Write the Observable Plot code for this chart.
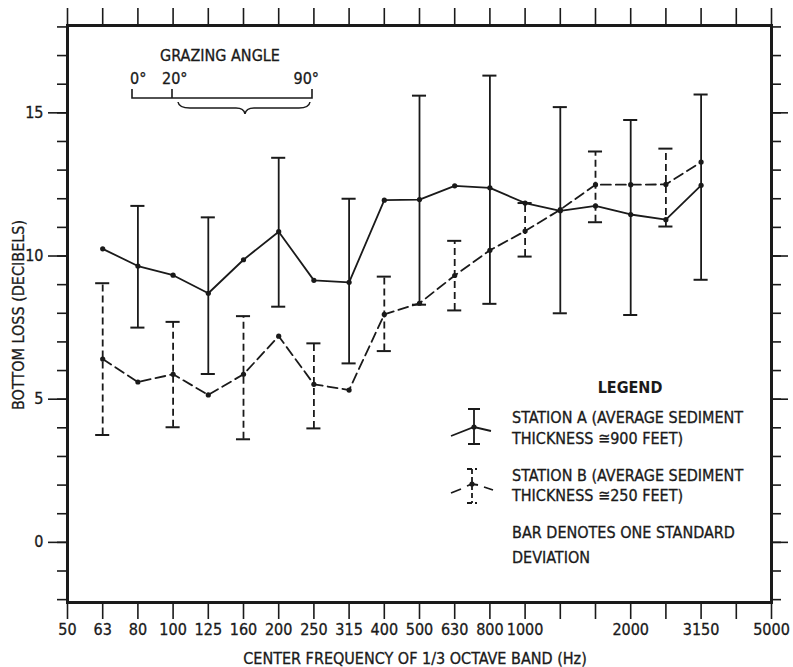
<!DOCTYPE html>
<html><head><meta charset="utf-8">
<script src="https://cdn.jsdelivr.net/npm/d3@7"></script>
<script src="https://cdn.jsdelivr.net/npm/@observablehq/plot@0.6"></script>
<style>
body{margin:0;background:#fff;}
#chart{position:absolute;left:0;top:0;}
svg text{font-family:"DejaVu Sans Condensed","Liberation Sans Narrow","Roboto Condensed","DejaVu Sans",sans-serif;}
</style></head><body><div id="chart"></div>
<script>
// 1/3-octave band centres (Hz) and the labels printed under the axis
const bands = ["50","63","80","100","125","160","200","250","315","400","500","630","800","1000","1250","1600","2000","2500","3150","4000","5000"];
const bandLabels = ["50","63","80","100","125","160","200","250","315","400","500","630","800","1000","","","2000","","3150","","5000"];

// Station A (solid) mean bottom loss, dB
const freqA = ["63","80","100","125","160","200","250","315","400","500","630","800","1000","1250","1600","2000","2500","3150"];
const lossA = [10.25,9.65,9.33,8.7,9.87,10.85,9.15,9.08,11.95,11.97,12.45,12.38,11.85,11.58,11.75,11.45,11.27,12.47];
// Station A standard-deviation bars
const barFreqA = ["80","125","200","315","500","800","1250","2000","3150"];
const barLowA  = [7.5,5.88,8.23,6.25,8.3,8.33,8.0,7.94,9.17];
const barHighA = [11.75,11.35,13.43,12.0,15.6,16.3,15.2,14.75,15.64];

// Station B (dashed) mean bottom loss, dB
const freqB = ["63","80","100","125","160","200","250","315","400","500","630","800","1000","1250","1600","2000","2500","3150"];
const lossB = [6.4,5.6,5.87,5.15,5.87,7.2,5.52,5.32,7.96,8.35,9.32,10.2,10.87,11.62,12.49,12.49,12.5,13.28];
// Station B standard-deviation bars
const barFreqB = ["63","100","160","250","400","630","1000","1600","2500"];
const barLowB  = [3.75,4.02,3.6,3.98,6.68,8.1,9.98,11.18,11.03];
const barHighB = [9.05,7.7,7.9,6.95,9.28,10.53,11.85,13.65,13.75];

const yMinor = d3.range(-2, 19);
const yMajor = [0,5,10,15];

const ix = f => bands.indexOf(f);
const A = freqA.map((f,i)=>({x:ix(f), y:lossA[i]}));
const B = freqB.map((f,i)=>({x:ix(f), y:lossB[i]}));
const EA = barFreqA.map((f,i)=>({x:ix(f), lo:barLowA[i], hi:barHighA[i]}));
const EB = barFreqB.map((f,i)=>({x:ix(f), lo:barLowB[i], hi:barHighB[i]}));
const capsA = EA.flatMap(d=>[{x:d.x,y:d.lo},{x:d.x,y:d.hi}]);
const capsB = EB.flatMap(d=>[{x:d.x,y:d.lo},{x:d.x,y:d.hi}]);
const cw = 0.2;
const ink = "#1a1a1a";

const plot = Plot.plot({
  width:793, height:667,
  marginLeft:67, marginRight:22, marginTop:25, marginBottom:65,
  x:{domain:[0,20], axis:null},
  y:{domain:[-2.1,18.05], axis:null},
  style:{fontSize:"16px", color:ink, background:"#fff", overflow:"visible"},
  marks:[
    Plot.axisY(yMinor,{anchor:"left", tickSize:10, tickFormat:()=>"", label:null, strokeWidth:1.6}),
    Plot.axisY(yMajor,{anchor:"left", tickSize:19, tickPadding:5, label:null, strokeWidth:1.6, fontSize:16}),
    Plot.axisY(yMinor,{anchor:"right", tickSize:9, tickFormat:()=>"", label:null, strokeWidth:1.6}),
    Plot.axisY(yMajor,{anchor:"right", tickSize:16, tickFormat:()=>"", label:null, strokeWidth:1.6}),
    Plot.axisX(d3.range(bands.length),{anchor:"top", tickSize:18, tickFormat:()=>"", label:null, strokeWidth:1.6}),
    Plot.axisX(d3.range(bands.length),{anchor:"bottom", tickSize:17, tickPadding:4, tickFormat:i=>bandLabels[i], label:null, strokeWidth:1.6, fontSize:16}),
    Plot.frame({stroke:ink, strokeWidth:3}),
    // Station A
    Plot.ruleX(EA,{x:"x", y1:"lo", y2:"hi", stroke:ink, strokeWidth:1.8}),
    Plot.ruleY(capsA,{y:"y", x1:d=>d.x-cw, x2:d=>d.x+cw, stroke:ink, strokeWidth:2}),
    Plot.line(A,{x:"x", y:"y", stroke:ink, strokeWidth:1.8}),
    Plot.dot(A,{x:"x", y:"y", r:2.6, fill:ink}),
    // Station B
    Plot.ruleX(EB,{x:"x", y1:"lo", y2:"hi", stroke:ink, strokeWidth:1.8, strokeDasharray:"7,4"}),
    Plot.ruleY(capsB,{y:"y", x1:d=>d.x-cw, x2:d=>d.x+cw, stroke:ink, strokeWidth:2}),
    Plot.line(B,{x:"x", y:"y", stroke:ink, strokeWidth:1.8, strokeDasharray:"10,5"}),
    Plot.dot(B,{x:"x", y:"y", r:2.6, fill:ink})
  ]
});
document.getElementById("chart").appendChild(plot);

const svg = d3.select(plot);
svg.selectAll("text").attr("stroke", ink).attr("stroke-width", 0.3);
const g = svg.append("g").attr("fill", ink).attr("stroke", ink).attr("stroke-width", 0.3)
  .attr("text-anchor","start").style("font-size","16px");
// axis titles
g.append("text").attr("x",415).attr("y",664).attr("text-anchor","middle").text("CENTER FREQUENCY OF 1/3 OCTAVE BAND (Hz)");
g.append("text").attr("transform","translate(24,315) rotate(-90)").attr("text-anchor","middle").text("BOTTOM LOSS (DECIBELS)");
// grazing angle annotation
g.append("text").attr("x",220).attr("y",61).attr("text-anchor","middle").text("GRAZING ANGLE");
g.append("text").attr("x",130).attr("y",84).text("0°");
g.append("text").attr("x",162).attr("y",84).text("20°");
g.append("text").attr("x",319).attr("y",84).attr("text-anchor","end").text("90°");
svg.append("path").attr("d","M132,89V98H312V89M172,89V98").attr("fill","none").attr("stroke",ink).attr("stroke-width",1.6);
svg.append("path").attr("d","M178,102Q179,108 190,108H236Q244,108 245,114Q246,108 254,108H299Q309,108 310,102").attr("fill","none").attr("stroke",ink).attr("stroke-width",1.5);
// legend
g.append("text").attr("x",630).attr("y",393).attr("text-anchor","middle").attr("font-weight","bold").attr("stroke-width",0).text("LEGEND");
const lines = [["STATION A (AVERAGE SEDIMENT",423],["THICKNESS \u2245900 FEET)",444],["STATION B (AVERAGE SEDIMENT",481],["THICKNESS \u2245250 FEET)",501],["BAR DENOTES ONE STANDARD",538],["DEVIATION",563]];
lines.forEach(([t,y])=>g.append("text").attr("x",512).attr("y",y).text(t));
// legend symbols
svg.append("path").attr("d","M474,409V444M468,409H480M468,444H480M451,436L474,427L491,431").attr("fill","none").attr("stroke",ink).attr("stroke-width",1.8);
svg.append("circle").attr("cx",474).attr("cy",427).attr("r",2.6).attr("fill",ink);
svg.append("path").attr("d","M472,469V503M467,469H477M467,503H477").attr("fill","none").attr("stroke",ink).attr("stroke-width",1.8).attr("stroke-dasharray","5,3");
svg.append("path").attr("d","M451,493L461,489M467,486L472,484L478,485M484,487L493,490").attr("fill","none").attr("stroke",ink).attr("stroke-width",1.8);
svg.append("circle").attr("cx",472).attr("cy",484).attr("r",2.6).attr("fill",ink);
</script></body></html>
